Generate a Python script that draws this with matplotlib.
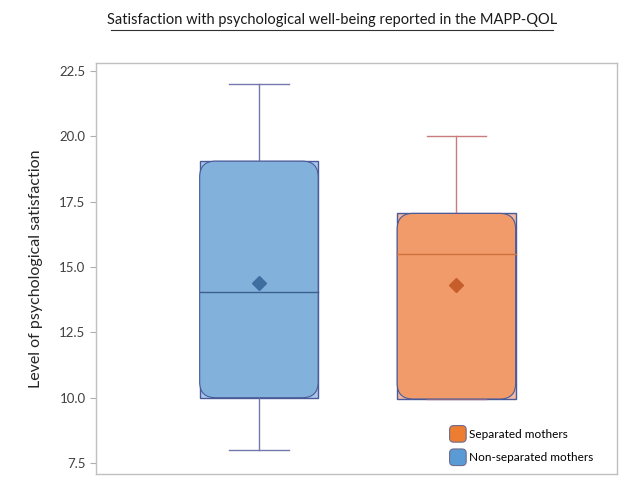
import matplotlib
matplotlib.use("Agg")
import matplotlib.pyplot as plt
from matplotlib.patches import FancyBboxPatch, Patch
from matplotlib.legend_handler import HandlerPatch

plt.rcParams['font.family'] = ['Lato', 'DejaVu Sans']

# data
groups = ["Non-separated mothers", "Separated mothers"]
q1 = [10.0, 9.95]
q3 = [19.05, 17.05]
medians = [14.05, 15.5]
means = [14.38, 14.32]
whislo = [8.0, 9.95]
whishi = [22.0, 20.0]

outer_fill = ["#a9c8ec", "#f2b9a3"]
inner_fill = ["#82b1dc", "#f09b69"]
edge_col = ["#4a5a99", "#4a5a99"]
whisk_col = ["#7479ad", "#c97b7d"]
med_col = ["#3d5f8e", "#cf7240"]
mean_col = ["#3f6fa1", "#c55e2a"]
legend_col = ["#ed7d31", "#5b9bd5"]

fig = plt.figure(figsize=(6.4, 4.93), dpi=100)
ax = fig.add_axes([0.15, 0.0385, 0.814, 0.834])

pos = [1, 2]
w = 0.6
for i in range(2):
    st = [dict(med=medians[i], q1=q1[i], q3=q3[i], whislo=whislo[i],
               whishi=whishi[i], mean=means[i], fliers=[], label=groups[i])]
    ax.bxp(st, positions=[pos[i]], widths=w, patch_artist=True,
           showmeans=False, showcaps=True,
           boxprops=dict(facecolor=outer_fill[i], edgecolor=edge_col[i], linewidth=1.0),
           whiskerprops=dict(color=whisk_col[i], linewidth=1.0),
           capprops=dict(color=whisk_col[i], linewidth=1.0),
           medianprops=dict(color=med_col[i], linewidth=0),
           capwidths=w / 2)

# rounded inner boxes
xlim = (0.175, 2.813)
ylim = (7.08, 22.81)
aspect = ((ylim[1] - ylim[0]) / 411) / ((xlim[1] - xlim[0]) / 521)
for i in range(2):
    fb = FancyBboxPatch((pos[i] - w / 2, q1[i]), w, q3[i] - q1[i],
                        boxstyle="round,pad=0,rounding_size=0.08",
                        mutation_aspect=aspect,
                        facecolor=inner_fill[i], edgecolor=edge_col[i],
                        linewidth=0.8, zorder=3)
    ax.add_patch(fb)
    ax.plot([pos[i] - w / 2, pos[i] + w / 2], [medians[i], medians[i]],
            color=med_col[i], linewidth=1.0, zorder=4)
    ax.plot(pos[i], means[i], marker="D", markersize=7, color=mean_col[i],
            markeredgecolor=mean_col[i], zorder=5)

ax.set_xlim(*xlim)
ax.set_ylim(*ylim)
ax.set_xticks([])
ax.set_yticks([7.5, 10, 12.5, 15, 17.5, 20, 22.5])
ax.set_yticklabels(["7.5", "10.0", "12.5", "15.0", "17.5", "20.0", "22.5"])
ax.tick_params(axis='y', colors="#b0b0b0", labelcolor="#404040", labelsize=9.5,
               length=4, width=0.8)
for s in ax.spines.values():
    s.set_color("#c0c0c0")
    s.set_linewidth(1.0)

ax.set_ylabel("Level of psychological satisfaction", fontsize=11.5,
              color="#262626", labelpad=12)

fig.text(0.519, 0.96, "Satisfaction with psychological well-being reported in the MAPP-QOL",
         ha="center", va="center", fontsize=10.5, color="#1a1a1a")
fig.add_artist(plt.Line2D([111 / 640, 553 / 640], [1 - 29.5 / 493, 1 - 29.5 / 493],
                          color="#303030", linewidth=0.8))


class RoundHandler(HandlerPatch):
    def create_artists(self, legend, orig_handle, xdescent, ydescent,
                       width, height, fontsize, trans):
        p = FancyBboxPatch((-xdescent, -ydescent - 3), height + 6, height + 6,
                           boxstyle="round,pad=0,rounding_size=3",
                           facecolor=orig_handle.get_facecolor(),
                           edgecolor="#6d6d8f", linewidth=0.8, transform=trans)
        return [p]


handles = [Patch(facecolor=legend_col[0]), Patch(facecolor=legend_col[1])]
ax.legend(handles, ["Separated mothers", "Non-separated mothers"],
          loc="lower right", frameon=False, fontsize=8.5,
          handler_map={Patch: RoundHandler()}, handlelength=1.4,
          handletextpad=0.25, labelspacing=1.05,
          bbox_to_anchor=(0.975, 0.0))

fig.savefig("out.png", dpi=100)
